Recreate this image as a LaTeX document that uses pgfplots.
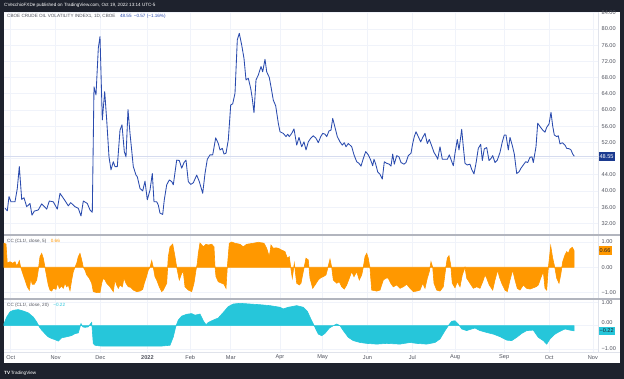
\documentclass[border=0pt]{standalone}
\usepackage{fontspec}
\setmainfont{Liberation Sans}
\usepackage{pgfplots}
\usepackage{pgfplotstable}
\pgfplotsset{compat=1.18}
\definecolor{tvbg}{HTML}{1E222D}
\definecolor{tvline}{HTML}{2A4BAE}
\definecolor{tvbox}{HTML}{1B3A8F}
\definecolor{tvorange}{HTML}{FF9800}
\definecolor{tvcyan}{HTML}{26C6DA}
\definecolor{tvgrid}{HTML}{F0F3FA}
\definecolor{tvtext}{HTML}{50535E}
\definecolor{tvsep}{HTML}{B2B5BE}
\definecolor{tvlast}{HTML}{D6DCEF}
\definecolor{tvborder}{HTML}{E0E3EB}

% x = position on the time scale (Oct 1 2021 at 10.7, one trading day = 2.1365)
\pgfplotstableread{
x v
5 35.7
7.3 35.1
9 38.6
11 37.3
15 37.3
17.3 40.6
19.3 46.0
21.7 37.9
24 38.3
26.7 36.1
30 36.9
32 34.0
34.3 35.0
38.3 35.3
41.7 36.8
46.7 35.5
49.3 37.5
53.3 37.3
57.3 35.5
60 39.4
65 37.6
68.3 36.3
70.7 37.1
75 36.1
78.3 35.7
81 33.8
83.3 37.5
87.3 36.9
90 35.3
92.3 34.7
94 65.7
96 63.7
98.3 75.2
100 78.1
102.3 57.5
104.7 64.5
106.7 57.5
109 48.4
111 45.2
113.3 47.2
115 46.0
117.3 46.0
120 55.0
122 56.3
124.3 49.7
126 48.4
128 60.1
130 54.2
133.3 46.0
136 43.9
137.3 43.5
140 40.6
142.7 40.0
145 42.4
147.3 37.8
150 40.2
152.3 44.3
154 37.3
156.7 37.3
158.3 36.5
160 34.5
162.7 34.2
164.3 37.8
166.7 41.5
169.3 42.7
171.7 42.3
173.3 41.5
176.7 47.6
179.3 47.5
181.7 45.6
184 47.0
186 47.6
188.3 42.3
190.7 41.6
193.3 42.0
196.7 43.9
199.3 42.3
202.7 39.4
205 44.3
207.3 47.8
210 48.9
212.7 48.9
215.7 53.1
218.3 51.7
220 50.1
222.3 50.5
224 49.1
226 49.3
228.3 52.6
230.7 61.2
232.7 61.5
235 64.1
237.3 77.3
239.3 78.9
241.7 76.0
244 72.7
246 67.4
248.3 67.8
250.7 65.3
252 63.3
254 59.3
256 67.4
258.3 68.6
261 70.7
262.7 69.4
265 72.5
266.7 69.4
269.3 68.0
271 65.7
273.3 62.4
275.7 61.0
278.3 56.7
280 54.6
283.3 54.2
286 53.4
287.7 54.0
289.3 53.4
291.7 54.2
294 55.3
296.7 51.3
299 53.2
301.7 50.9
304 52.1
306 50.1
308.3 52.1
310.7 53.0
313.3 53.6
316 53.0
318.3 51.9
320.7 53.4
322.7 54.2
325 54.0
326.7 53.4
329 54.8
331 55.0
332.7 57.9
335 55.7
337.3 53.4
340 52.1
342.3 51.3
344.3 51.9
346 50.9
348.3 51.7
351.7 50.9
354 48.9
356.7 47.2
359 46.8
361 46.1
363.3 48.0
365.7 49.7
368.3 48.9
370.7 47.6
372.7 46.2
374 47.8
375.7 46.6
377.7 44.7
380 44.1
382.3 42.9
384.3 47.2
386.7 46.8
389.3 46.6
391 46.1
392.7 49.1
394.3 46.6
396.7 48.7
399 48.4
401 47.0
404 46.6
406 47.0
408.3 48.7
411 49.3
412.7 51.7
414.3 53.4
416 54.6
418.3 53.4
420.7 52.1
422.7 53.2
425 54.2
427.3 51.7
429.3 52.7
431.7 51.1
434 49.5
436.7 48.4
437.7 47.8
440 50.9
442.3 47.8
445 47.8
447.3 47.8
449.3 48.9
453.3 46.2
455 49.3
457.3 52.7
459 50.1
461.7 55.2
463.3 50.9
465 46.8
467.3 46.4
470 46.6
471.7 45.3
474 44.2
476 46.8
478.3 50.5
480.7 51.5
482.3 47.5
484.3 50.4
486.7 50.7
489 47.5
491 48.0
492.7 48.7
495 47.0
497.3 47.6
500 49.5
502.3 52.1
504.3 53.8
506 53.8
508.3 50.1
510 53.2
512.3 51.2
514.3 49.1
516.7 44.3
519 44.7
521 45.6
523.3 46.4
525.7 47.2
527.7 47.0
530 48.3
532 48.4
533.3 47.0
536 50.9
537.7 56.7
540 55.9
542.7 55.0
545 54.5
546.7 55.7
549 56.5
551 59.4
552.7 56.0
554.3 53.8
556.7 53.4
558.3 53.6
560 51.6
562.3 51.9
565 51.3
566.7 50.5
569.3 50.4
571 50.1
572.7 49.1
574.3 48.55
}\ovx

\pgfplotstableread{
x v
4 0.95
6 0.92
7.3 0.16
10 0.22
12.7 0.16
15 0.22
16.7 0.05
18.3 0.16
19.3 0.26
20.7 0
22.7 -0.24
25 -0.50
27.3 -0.77
29.3 -0.90
30.7 -0.47
32.3 -0.67
34.3 -0.67
36.7 -0.50
38.3 -0.11
40 0.42
41.7 0.55
43.3 0.36
45 0
46.7 -0.37
48.3 -0.70
50 -0.90
51.7 -0.94
53.3 -0.83
56 -0.87
57.7 -0.63
59.3 -0.83
61.7 -0.74
63.3 -0.83
65 -0.63
66.7 -0.77
68.3 -0.70
70 -0.92
71.7 -0.5
73.3 -0.17
75 0
76.7 0.16
78.3 0.42
80 0.55
81.7 0.29
83.3 0
85 -0.11
86.7 -0.3
89.3 -0.43
91.7 -0.63
93.3 -0.96
96.7 -1.0
100 -1.0
101.7 -0.63
103.3 -0.43
105 -0.5
106.7 -0.63
110 -0.77
113.3 -0.96
115 -0.5
116.7 -0.7
118.3 -0.83
120 -0.7
122.3 -0.77
124 -0.43
126 -0.63
128.3 -0.77
130.7 -0.79
133.3 -0.9
136.7 -0.96
140 -0.94
142.7 -0.87
144.3 -0.63
146 -0.43
148.3 -0.11
150 0
151.7 0.26
153.3 0
155 -0.37
156.7 -0.5
159.3 -0.77
161.7 -0.96
163.3 -0.9
166.7 -0.63
168.3 0.42
170 0.81
172.7 0.92
175 0.42
176.7 0
179.3 -0.5
181.7 -0.24
183.3 -0.17
185 -0.77
188.3 -0.9
191.7 -0.96
194 -0.63
196 -0.11
197.3 0.16
198.3 0.55
200 0.96
203.3 0.81
206 0.91
208.3 0.88
211.7 0.91
214 0.81
215 0.02
216 -0.37
218.3 -0.57
221.7 -0.63
224 -0.67
226 -0.83
227.3 0
229.3 0.95
231.7 1.0
235 0.95
240 0.91
243.3 0.81
246.7 0.91
253.3 0.95
258.3 0.99
264 0.95
266.7 0.75
269.3 0.42
271 0.88
273.3 0.75
276 0.77
278.3 0.75
281.7 0.68
285 0.62
287.3 0.36
289.3 0.42
290.7 0
292.3 -0.43
294.3 0.16
296.7 -0.63
299.3 -0.7
301 -0.63
303.3 -0.17
306 0.36
308.3 0.29
310 -0.43
312.7 -0.83
315 -0.7
318.3 -0.5
320.7 -0.41
323.3 -0.37
326 -0.30
327.7 -0.04
330 0.32
331.7 0
333.3 -0.5
336.7 -0.63
339.3 -0.57
341.7 -0.77
344.3 -0.86
346.7 -0.7
349.3 -0.43
351.7 -0.17
354 -0.37
356.7 -0.17
359.3 -0.5
361.7 -0.3
363.3 0
365 0.42
366.7 0.55
368.3 0.36
370 -0.04
371.7 -0.9
376.7 -0.94
380 -0.9
383.3 -0.5
386 -0.43
388.3 -0.43
390.7 -0.63
393.3 -0.77
396.7 -0.7
400 -0.83
403.3 -0.77
406.7 -0.67
410 -0.83
413.3 -0.96
416.7 -0.94
420 -0.9
422.7 -0.63
425 -0.83
427.3 -0.43
429.3 -0.17
431 0.22
432.7 0
434 -0.63
436.7 -0.9
440 -0.94
443.3 -0.77
445.7 -0.04
447.3 0.36
449 0.46
450.7 0.09
452.3 -0.63
455 -0.81
457.3 -0.57
460 -0.77
462.3 -0.3
465 0
466.7 -0.43
470 -0.63
473.3 -0.83
476.7 -0.77
480 -0.83
482.7 -0.57
485 -0.3
486.7 -0.43
489.3 -0.7
492.7 -0.9
495 -0.5
497.7 -0.11
499.3 -0.37
501.7 -0.63
505 -0.9
507.3 -0.96
510 -0.5
512.7 -0.11
515 -0.5
517.3 -0.83
520 -0.9
523.3 -0.7
526.7 -0.83
530 -0.86
533.3 -0.81
536 -0.77
538.3 -0.7
540.7 -0.43
543.3 -0.17
545 -0.83
546.7 -0.9
548.3 -0.04
550.7 0.85
552.7 0.36
555 -0.04
556.7 -0.43
559 -0.63
560.7 -0.3
562.7 0.22
565 0.49
566.7 0.62
568.3 0.55
570 0.72
572.3 0.79
574 0.66
}\ccfive

\pgfplotstableread{
x v
4 0.09
6.7 0.37
10 0.59
13.3 0.66
18.3 0.69
23.3 0.63
28.3 0.55
33.3 0.37
36.7 0.16
39.3 -0.05
41.7 -0.19
45 -0.34
48.3 -0.48
51.7 -0.55
55 -0.6
58.3 -0.66
61.7 -0.52
65 -0.49
68.3 -0.46
71.7 -0.42
75 -0.34
78.3 -0.31
81 0.09
82.7 -0.05
85 -0.07
88.3 -0.05
90.7 0.09
91.7 0.14
93.3 -0.77
95 -0.84
100 -0.87
110 -0.88
120 -0.88
133.3 -0.88
146.7 -0.88
160 -0.88
170 -0.84
173.3 -0.48
175.7 -0.05
178.3 0.24
181.7 0.41
186.7 0.49
191.7 0.52
195 0.45
199 0.49
200 0.50
203.3 0.21
206 0.04
208.3 0.14
213.3 0.24
218.3 0.33
223.3 0.57
228.3 0.82
233.3 0.93
240 0.96
250 0.93
260 0.90
270 0.86
280 0.79
283.3 0.72
288.3 0.79
296.7 0.86
303.3 0.79
307.3 0.62
311.7 0.21
315 -0.07
318.3 -0.36
321.7 -0.43
325 -0.33
329.3 -0.10
333.3 0
336.7 0.07
340 0
343.3 -0.21
348.3 -0.50
353.3 -0.64
360 -0.72
366.7 -0.76
376.7 -0.79
386.7 -0.76
400 -0.79
410 -0.72
416.7 -0.76
426.7 -0.79
435 -0.72
440 -0.57
445 -0.21
448.3 0
451.7 0.19
455 0.21
458.3 0.07
461.7 -0.14
466.7 -0.21
471.7 -0.14
475 -0.10
480 -0.21
486.7 -0.29
493.3 -0.36
500 -0.47
506.7 -0.62
511.7 -0.64
516.7 -0.50
521.7 -0.33
526.7 -0.21
533.3 -0.19
538.3 -0.50
543.3 -0.64
546.7 -0.79
550 -0.57
555 -0.36
560 -0.24
565 -0.14
570 -0.19
574 -0.22
}\cctwenty

\pgfplotsset{
  tvpanel/.style={
    scale only axis, width=594pt, xmin=4, xmax=598,
    axis line style={draw=none}, major tick length=0pt,
    grid=major, grid style={tvgrid, line width=0.7pt},
    xtick={10.7,55.6,100.4,147.4,190.2,230.8,279.9,322.6,367.5,412.4,455.1,504.2,549.1,592.9},
    xticklabels=\empty,
    yticklabel pos=right,
    yticklabel style={font=\fontsize{5.6}{6.5}\selectfont, text=tvtext, anchor=west, inner sep=0pt, xshift=3.5pt},
    clip=false,
  },
}

\begin{document}
\begin{tikzpicture}
\path[use as bounding box] (0pt,0pt) rectangle (624pt,379pt);
\fill[tvbg] (0pt,0pt) rectangle (624pt,379pt);
\fill[white] (4pt,16pt) rectangle (620pt,367pt);

% main panel
\begin{axis}[tvpanel, at={(4pt,144pt)}, anchor=south west, height=223pt,
  ymin=29.11, ymax=84.17,
  ytick={32,36,40,44,48,52,56,60,64,68,72,76,80,84},
  yticklabels={32.00,36.00,40.00,44.00,,52.00,56.00,60.00,64.00,68.00,72.00,76.00,80.00,84.00}]
\addplot[tvlast, line width=1.3pt] coordinates {(4,48.55) (598,48.55)};
\addplot[tvline, line width=0.85pt, line join=round] table[x=x,y=v] {\ovx};
\node[fill=tvbox, text=white, font=\fontsize{5.6}{6.5}\selectfont, inner sep=1.3pt, anchor=west, minimum height=8.5pt] at (axis cs:598,48.55) {48.55};
\end{axis}

% CC 5 panel
\begin{axis}[tvpanel, at={(4pt,80pt)}, anchor=south west, height=64pt,
  ymin=-1.253, ymax=1.277,
  ytick={-1,0,1}, yticklabels={−1.00,0.00,1.00}]
\addplot[tvorange, fill=tvorange, line width=0.6pt] table[x=x,y=v] {\ccfive} \closedcycle;
\node[fill=tvorange, text=tvbg, font=\fontsize{5.6}{6.5}\selectfont, inner sep=1.3pt, anchor=west, minimum height=8.5pt] at (axis cs:598,0.66) {0.66};
\end{axis}

% CC 20 panel
\begin{axis}[tvpanel, at={(4pt,27pt)}, anchor=south west, height=53pt,
  ymin=-1.129, ymax=1.146,
  ytick={-1,0,1}, yticklabels={−1.00,0.00,1.00},
  yticklabel style={yshift={ifthenelse(\ticknum==1,3.5,0)}},
  xticklabels={Oct,Nov,Dec,\textbf{2022},Feb,Mar,Apr,May,Jun,Jul,Aug,Sep,Oct,Nov},
  xticklabel style={font=\fontsize{5.6}{6.5}\selectfont, text=tvtext, anchor=center, yshift=-5.5pt}]
\addplot[tvcyan, fill=tvcyan, line width=0.6pt] table[x=x,y=v] {\cctwenty} \closedcycle;
\node[fill=tvcyan, text=tvbg, font=\fontsize{5.6}{6.5}\selectfont, inner sep=1.3pt, anchor=west, minimum height=8.5pt] at (axis cs:598,-0.22) {−0.22};
\end{axis}

% separators and borders
\draw[tvborder, line width=0.6pt] (598pt,27pt) -- (598pt,367pt);
\draw[tvborder, line width=0.6pt] (4pt,27pt) -- (620pt,27pt);
\draw[tvsep, line width=1.3pt] (4pt,144pt) -- (620pt,144pt);
\draw[tvsep, line width=1.3pt] (4pt,80pt) -- (620pt,80pt);

% texts
\node[anchor=west, text=white, font=\fontsize{4.6}{5}\selectfont, inner sep=0pt] at (4pt,374pt) {CVecchioFXDe published on TradingView.com, Oct 19, 2022 13:14 UTC-5};
\node[anchor=west, font=\fontsize{4.6}{5}\selectfont, inner sep=0pt] at (7pt,362.5pt) {\textcolor{tvtext}{CBOE CRUDE OIL VOLATILITY INDEX1, 1D, CBOE}\quad\textcolor{tvline}{48.55\enspace −0.57 (−1.16\%)}};
\node[anchor=west, font=\fontsize{4.6}{5}\selectfont, inner sep=0pt] at (7pt,138pt) {\textcolor{tvtext}{CC (CL1!, close, 5)}\quad\textcolor{tvorange}{0.66}};
\node[anchor=west, font=\fontsize{4.6}{5}\selectfont, inner sep=0pt] at (7pt,74pt) {\textcolor{tvtext}{CC (CL1!, close, 20)}\quad\textcolor{tvcyan}{−0.22}};
\node[anchor=west, text=white, font=\fontsize{4.6}{5}\selectfont, inner sep=0pt] at (4pt,6pt) {\textbf{TV}\,TradingView};
\end{tikzpicture}
\end{document}
